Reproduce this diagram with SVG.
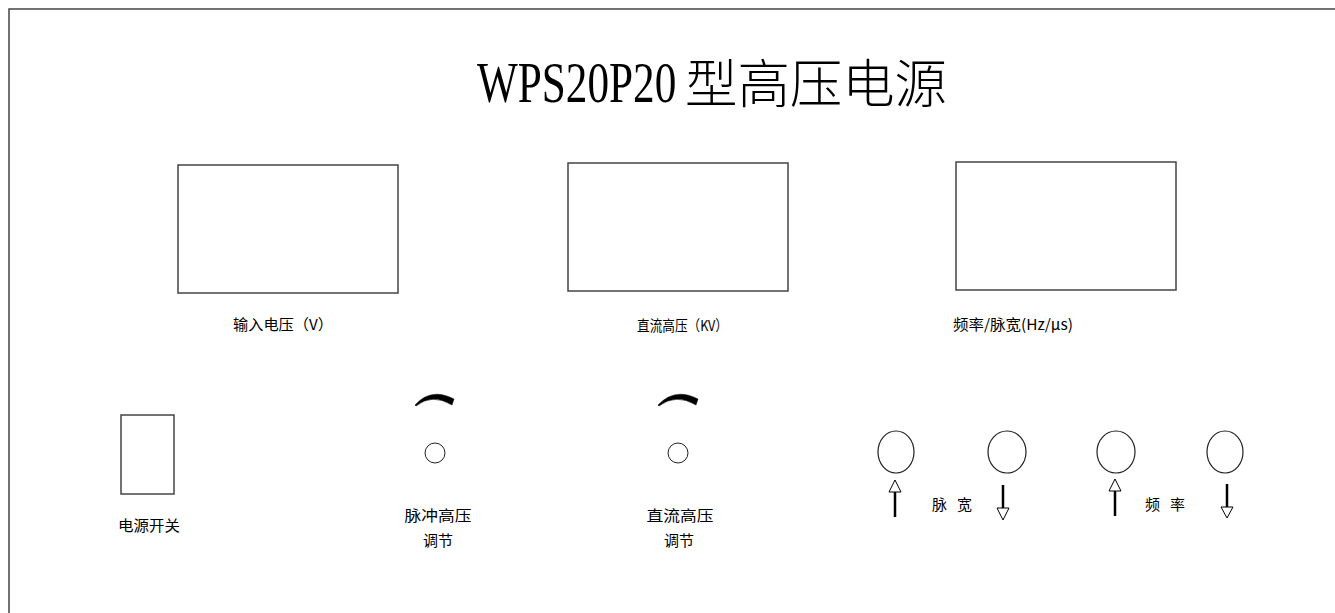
<svg xmlns="http://www.w3.org/2000/svg" width="1335" height="613" viewBox="0 0 1335 613">
<style>
.frame{fill:none;stroke:#444;stroke-width:1.5}
.box{fill:#fff;stroke:#444;stroke-width:1.5}
.knob{fill:#fff;stroke:#222;stroke-width:1}
.btn{fill:#fff;stroke:#222;stroke-width:1.2}
.dial{fill:#000;stroke:#000;stroke-width:0.5}
.shaft{stroke:#000;stroke-width:2.5}
.head{fill:#fff;stroke:#000;stroke-width:1}
.lbl{font-family:"Noto Sans CJK SC","Noto Sans CJK JP",sans-serif;font-size:15px;fill:#000}
.title-lat{font-family:"Liberation Serif",serif;font-size:58px;fill:#000}
.title-cjk{font-family:"Noto Sans CJK SC",sans-serif;font-size:52px;font-weight:300;fill:#000}
</style>
<rect width="1335" height="613" fill="#fff"/>
<path class="frame" d="M9,613 V9 H1335"/>
<g id="title">
<text class="title-lat" transform="translate(477,102) scale(0.745,1)" x="0" y="0">WPS20P20</text>
<text class="title-cjk" x="685" y="103" textLength="262" lengthAdjust="spacingAndGlyphs">型高压电源</text>
</g>
<g id="display-input">
<rect class="box" x="178" y="165" width="220" height="128"/>
<text class="lbl" x="233" y="330" textLength="100" lengthAdjust="spacingAndGlyphs">输入电压（V）</text>
</g>
<g id="display-dc">
<rect class="box" x="568" y="163" width="220" height="128"/>
<text class="lbl" x="637" y="331" textLength="91" lengthAdjust="spacingAndGlyphs">直流高压（KV）</text>
</g>
<g id="display-freq">
<rect class="box" x="956" y="162" width="220" height="128"/>
<text class="lbl" x="953" y="330" textLength="120" lengthAdjust="spacingAndGlyphs">频率/脉宽(Hz/μs)</text>
</g>
<g id="power-switch">
<rect class="box" x="121" y="415" width="53" height="79"/>
<text class="lbl" x="118" y="531" textLength="62" lengthAdjust="spacingAndGlyphs">电源开关</text>
</g>
<g id="knob-pulse">
<path class="dial" d="M415,405 Q431,387 454,399 L452,405 Q432,393 416,406 Z"/>
<circle class="knob" cx="435" cy="453" r="10"/>
<text class="lbl" x="438" y="521" text-anchor="middle" textLength="67" lengthAdjust="spacingAndGlyphs">脉冲高压</text>
<text class="lbl" x="438" y="546" text-anchor="middle">调节</text>
</g>
<g id="knob-dc">
<path class="dial" d="M658,405 Q675,387 698,399 L696,405 Q676,393 659,406 Z"/>
<circle class="knob" cx="678" cy="453" r="10"/>
<text class="lbl" x="680" y="521" text-anchor="middle" textLength="67" lengthAdjust="spacingAndGlyphs">直流高压</text>
<text class="lbl" x="679" y="546" text-anchor="middle">调节</text>
</g>
<g id="btn-width-up">
<ellipse class="btn" cx="896" cy="452" rx="18" ry="21"/>
<line class="shaft" x1="895" y1="517" x2="895" y2="492"/>
<polygon class="head" points="895,480 889,492 901,492"/>
</g>
<g id="btn-width-down">
<ellipse class="btn" cx="1007" cy="452" rx="19" ry="21"/>
<line class="shaft" x1="1003" y1="485" x2="1003" y2="508"/>
<polygon class="head" points="997,508 1009,508 1003,520"/>
</g>
<g id="label-width">
<text class="lbl" x="932" y="510">脉</text>
<text class="lbl" x="957" y="510">宽</text>
</g>
<g id="btn-freq-up">
<ellipse class="btn" cx="1116" cy="452" rx="19" ry="21"/>
<line class="shaft" x1="1115" y1="516" x2="1115" y2="491"/>
<polygon class="head" points="1115,479 1109,491 1121,491"/>
</g>
<g id="btn-freq-down">
<ellipse class="btn" cx="1225" cy="452" rx="18" ry="21"/>
<line class="shaft" x1="1227" y1="484" x2="1227" y2="507"/>
<polygon class="head" points="1221,507 1233,507 1227,518"/>
</g>
<g id="label-freq">
<text class="lbl" x="1145" y="510">频</text>
<text class="lbl" x="1170" y="510">率</text>
</g>
<g id="connectors"></g>
</svg>
